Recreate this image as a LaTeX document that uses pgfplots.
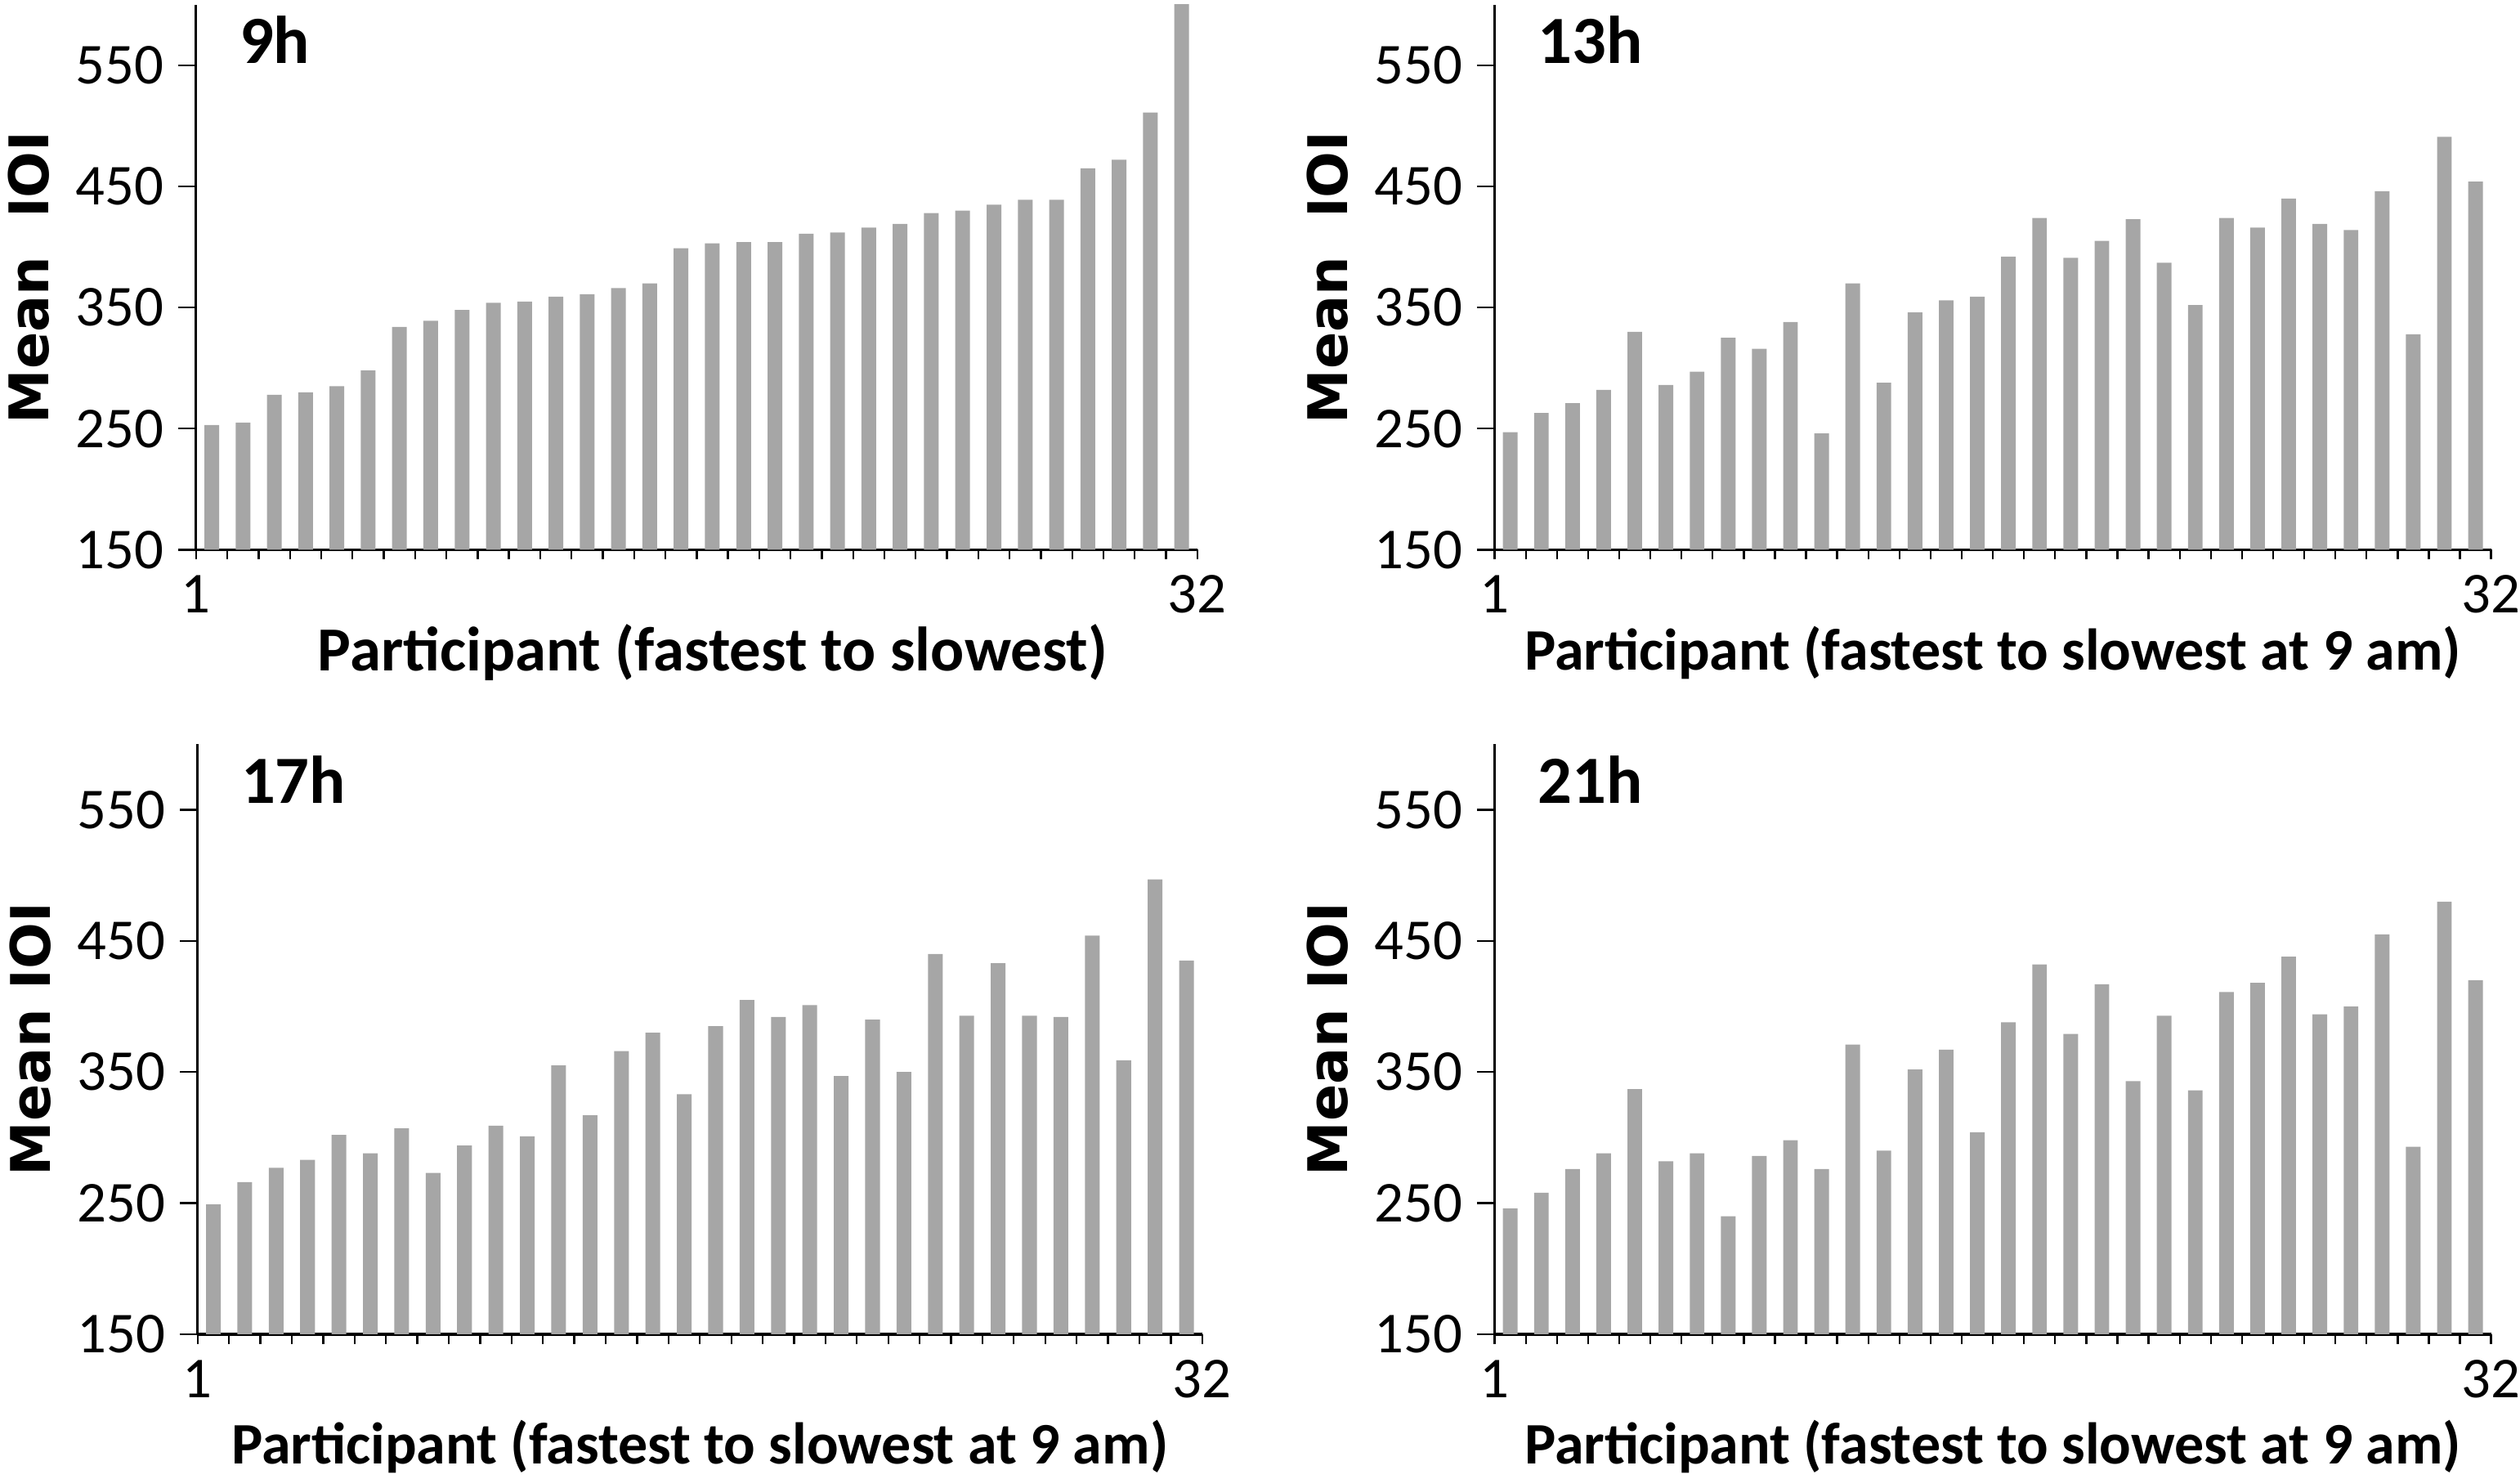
\documentclass[border=0pt]{standalone}
\usepackage{pgfplots}
\usepackage{pgfplotstable}
\pgfplotsset{compat=1.18}
\usepackage{fontspec}
\setmainfont{Carlito}
\newfontfamily\dvsans{DejaVu Sans}
\definecolor{bargray}{RGB}{166,166,166}

\pgfplotstableread{
x h9 h13 h17 h21
1 253 247 249 246
2 255 263 266 258
3 278 271 277 276
4 280 282 283 288
5 285 330 302 337
6 298 286 288 282
7 334 297 307 288
8 339 325 273 240
9 348 316 294 286
10 354 338 309 298
11 355 246 301 276
12 359 370 355 371
13 361 288 317 290
14 366 346 366 352
15 370 356 380 367
16 399 359 333 304
17 403 392 385 388
18 404 424 405 432
19 404 391 392 379
20 411 405 401 417
21 412 423 347 343
22 416 387 390 393
23 419 352 350 336
24 428 424 440 411
25 430 416 393 418
26 435 440 433 438
27 439 419 393 394
28 439 414 392 400
29 465 446 454 455
30 472 328 359 293
31 511 491 497 480
32 605 454 435 420
}\datatable

\pgfplotsset{
  panel/.style={
    scale only axis,
    ybar, bar width=0.47, bar shift=0pt,
    xmin=0.5, xmax=32.5, ymin=150, ymax=600,
    axis lines=left,
    axis line style={-, line width=0.8pt, black},
    every outer x axis line/.append style={-},
    every outer y axis line/.append style={-},
    ytick={150,250,350,450,550},
    xtick={0.5,32.5}, xticklabels={1,32},
    minor xtick={1.5,2.5,...,31.5},
    tick align=outside,
    major tick length=5.5pt,
    minor tick length=3pt,
    xtick style={/pgfplots/major tick length=3pt, line width=0.6pt, black},
    ytick style={line width=0.6pt, black},
    minor tick style={line width=0.6pt, black},
    /pgf/number format/assume math mode=true,
    ticklabel style={font=\fontsize{18}{18}\selectfont},
    yticklabel style={xshift=-1pt},
    xticklabel style={yshift=1pt},
    ylabel style={at={(axis description cs:0,0.5)}, anchor=center, yshift=52pt, font=\dvsans\bfseries\fontsize{17}{17}\selectfont},
    xlabel style={at={(axis description cs:0.5,0)}, anchor=center, yshift=-32pt, font=\bfseries\fontsize{18.3}{18.3}\selectfont},
    title style={at={(axis description cs:0,1)}, anchor=north west, xshift=10pt, yshift=-6pt, font=\bfseries\fontsize{21}{21}\selectfont},
    clip=true,
  }
}

\begin{document}
\begin{tikzpicture}
\useasboundingbox (0,0) rectangle (784pt,460pt);

\begin{axis}[panel, at={(61pt,289pt)}, anchor=south west, width=311.5pt, height=169.5pt,
  title={9h}, ylabel={Mean\ \ IOI}, xlabel={Participant (fastest to slowest)},
  xlabel style={xshift=5pt, font=\bfseries\fontsize{19.5}{19.5}\selectfont}]
\addplot[fill=bargray, draw=none] table[x=x, y=h9] {\datatable};
\end{axis}

\begin{axis}[panel, at={(465pt,289pt)}, anchor=south west, width=310pt, height=169.5pt,
  title={13h}, ylabel={Mean\ \ IOI}, xlabel={Participant (fastest to slowest at 9 am)}]
\addplot[fill=bargray, draw=none] table[x=x, y=h13] {\datatable};
\end{axis}

\begin{axis}[panel, at={(61.5pt,45pt)}, anchor=south west, width=312.5pt, height=183.5pt,
  title={17h}, ylabel={Mean IOI}, xlabel={Participant (fastest to slowest at 9 am)},
  xlabel style={yshift=-3pt}]
\addplot[fill=bargray, draw=none] table[x=x, y=h17] {\datatable};
\end{axis}

\begin{axis}[panel, at={(465pt,45pt)}, anchor=south west, width=310pt, height=183.5pt,
  title={21h}, ylabel={Mean IOI}, xlabel={Participant (fastest to slowest at 9 am)},
  xlabel style={yshift=-3pt}]
\addplot[fill=bargray, draw=none] table[x=x, y=h21] {\datatable};
\end{axis}
\end{tikzpicture}
\end{document}
